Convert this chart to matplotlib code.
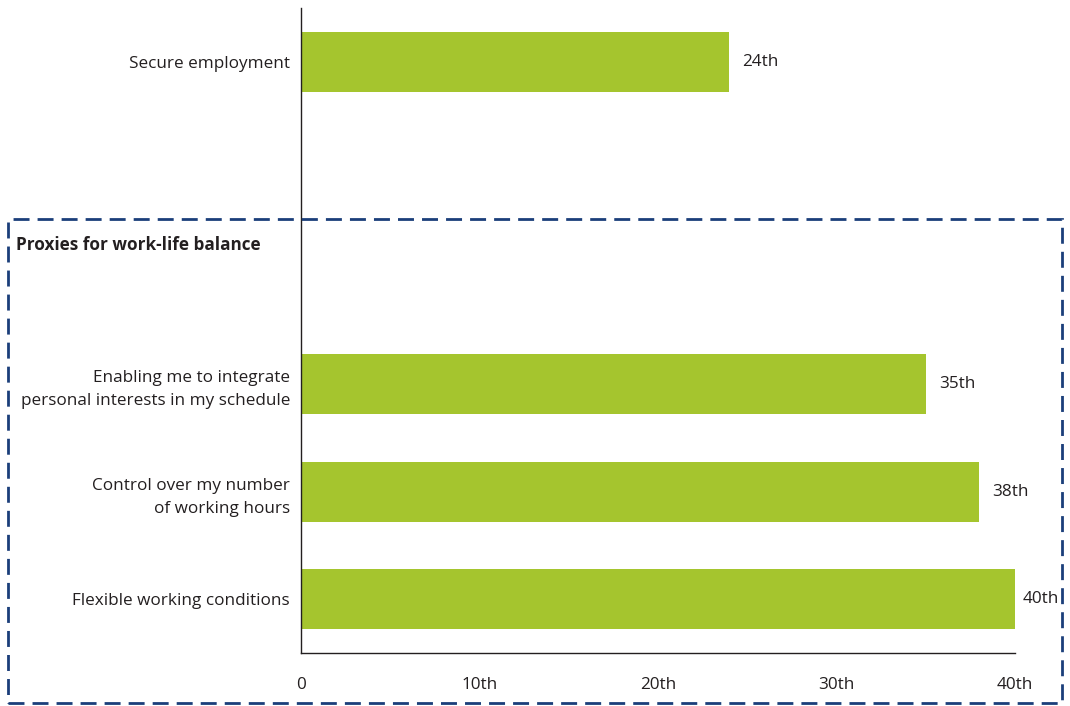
import matplotlib.pyplot as plt
import matplotlib.patches as mpatches

plt.rcParams['font.family'] = ['Open Sans', 'DejaVu Sans']

labels = ["Flexible working conditions",
          "Control over my number\nof working hours",
          "Enabling me to integrate\npersonal interests in my schedule",
          "Secure employment"]
ranks = [40, 38, 35, 24]
slots = [0, 1, 2, 5]
xticks = [0, 10, 20, 30, 40]
xtick_labels = ["0", "10th", "20th", "30th", "40th"]

green = "#A5C52E"
navy = "#1B3E7A"
textc = "#231F20"
fs = 12.3

fig = plt.figure(figsize=(10.7, 7.06), dpi=100)
ax = fig.add_axes([301 / 1070, 53 / 706, 714 / 1070, 645 / 706])

ax.barh(slots, ranks, height=0.56, color=green)
for y, v in zip(slots, ranks):
    # tighter gap when the bar reaches the end of the axis
    gap = 8 if v >= xticks[-1] else 13
    ax.annotate(f"{v}th", (v, y), xytext=(gap, 0), textcoords="offset pixels",
                va="center", ha="left", fontsize=fs, color=textc)

ax.set_xlim(0, 40)
ax.set_ylim(-0.5, 5.5)
ax.set_yticks(slots)
ax.set_yticklabels(labels, fontsize=fs, color=textc, ha="right", multialignment="right",
                   linespacing=1.6)
ax.set_xticks(xticks)
ax.set_xticklabels(xtick_labels, fontsize=fs, color=textc)
ax.tick_params(length=0)
ax.tick_params(axis="y", pad=8)
ax.tick_params(axis="x", pad=17.5)
for s in ["top", "right"]:
    ax.spines[s].set_visible(False)
for s in ["left", "bottom"]:
    ax.spines[s].set_color("#231F20")
    ax.spines[s].set_linewidth(1.0)

# dashed frame around the work-life balance group
box = mpatches.Rectangle((8 / 1070, 3 / 706), 1054 / 1070, 484 / 706,
                         transform=fig.transFigure, fill=False, edgecolor=navy,
                         linewidth=2.0, linestyle=(0, (5.75, 2.9)), clip_on=False)
fig.patches.append(box)
fig.text(16 / 1070, 1 - 245 / 706, "Proxies for work-life balance", fontsize=fs,
         fontweight="bold", color=textc, va="center", ha="left")

fig.savefig("out.png", dpi=100)
